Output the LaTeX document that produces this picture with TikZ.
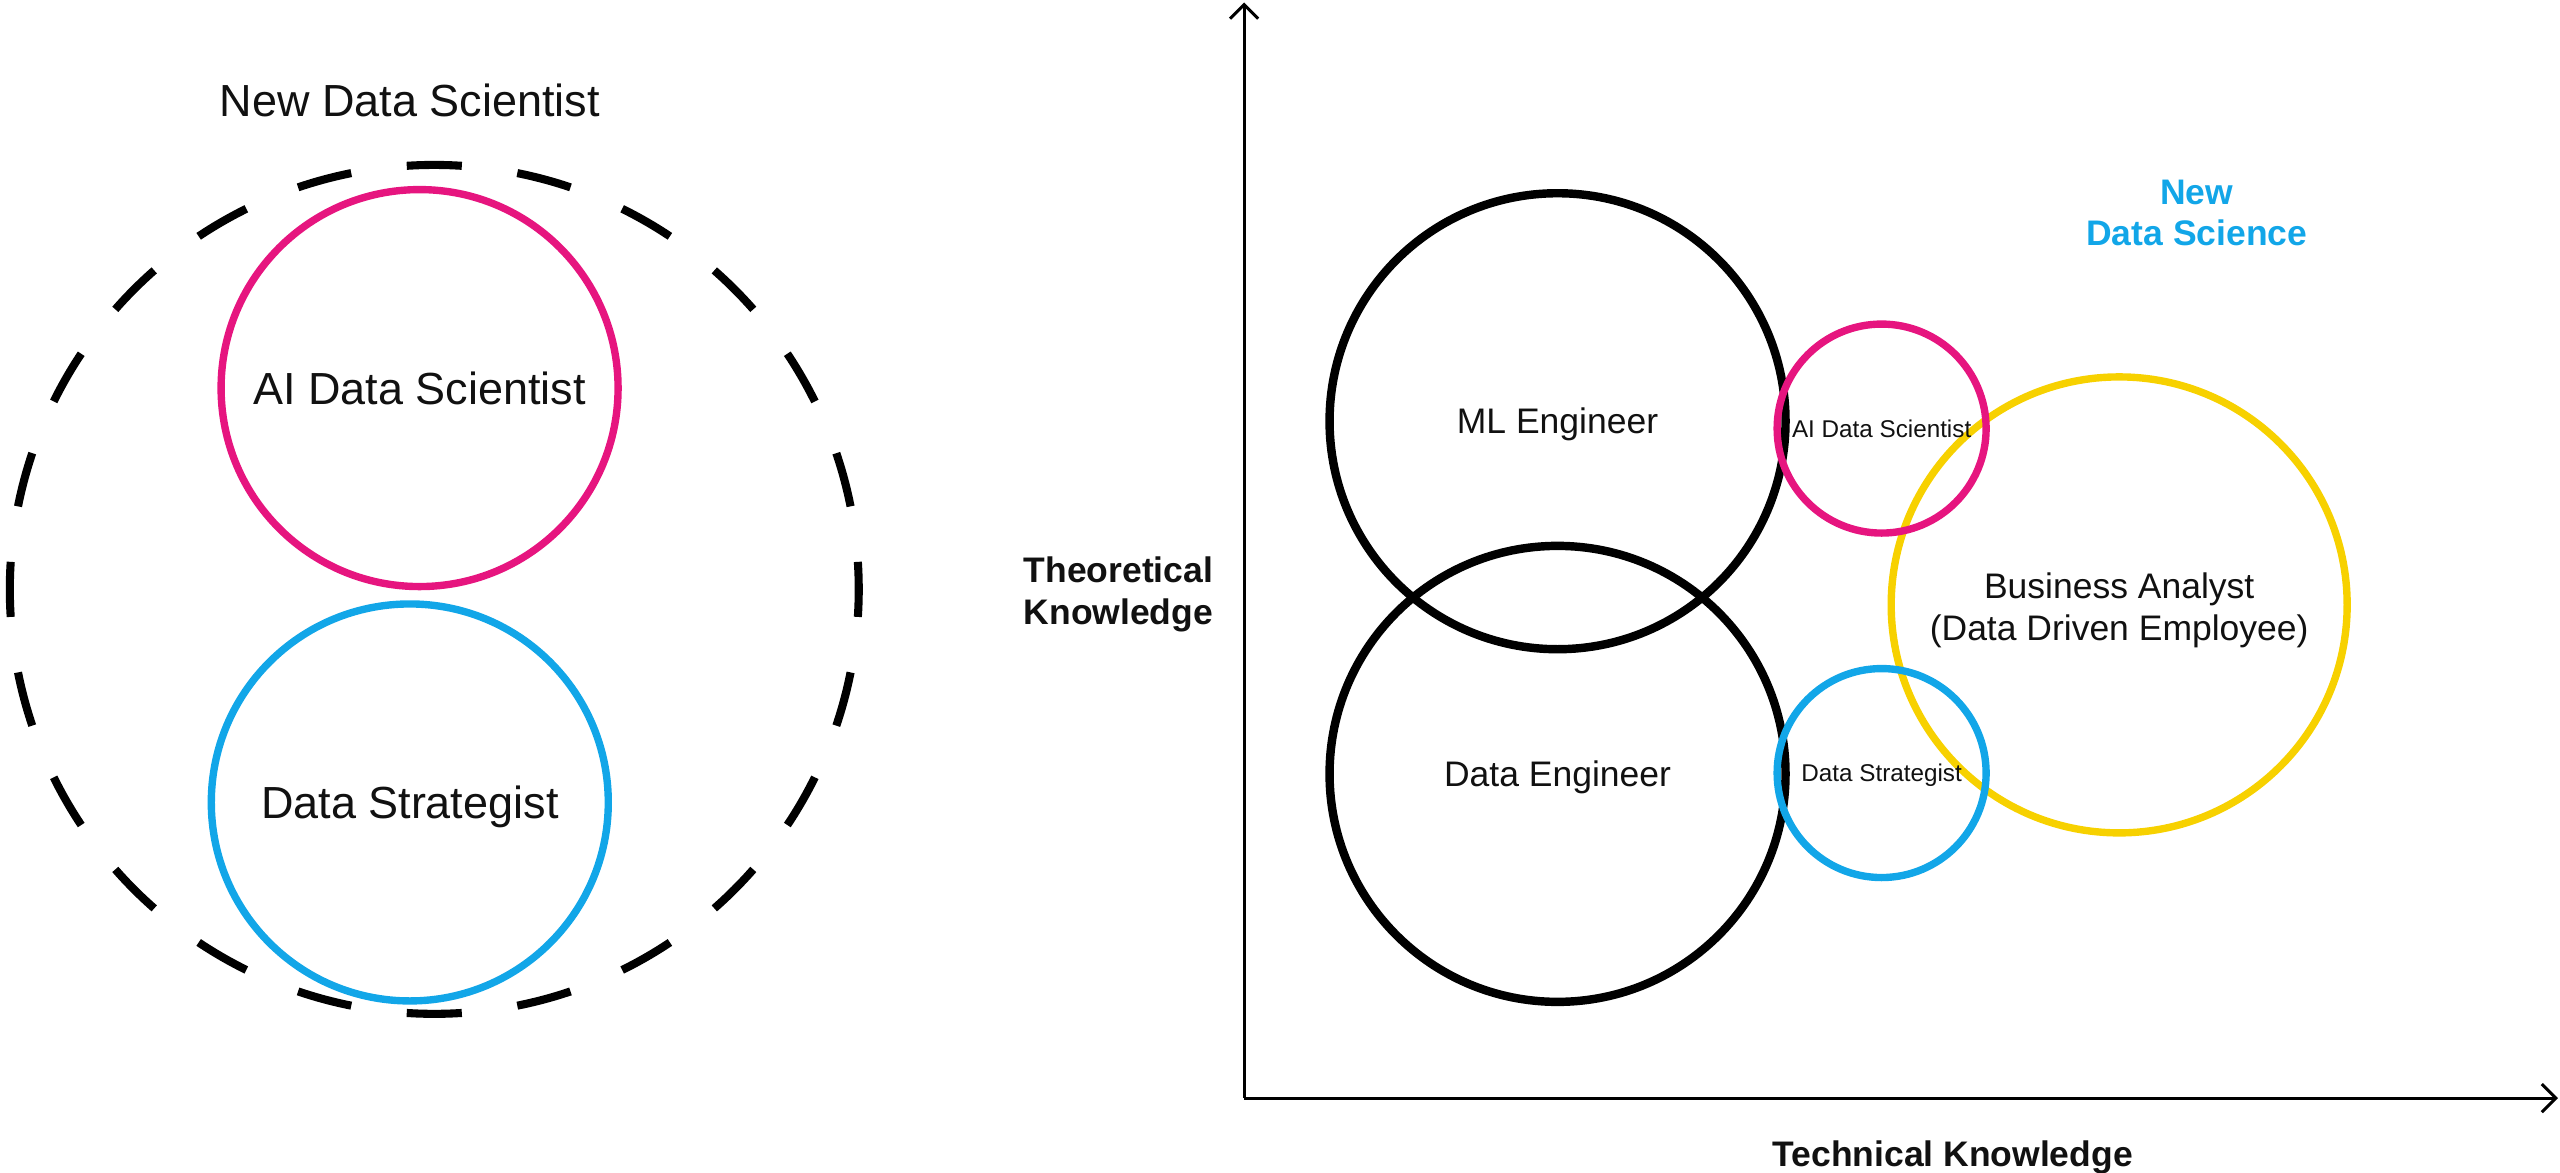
\documentclass[tikz,border=0pt]{standalone}
\usepackage{fontspec}
\setmainfont{Liberation Sans}
\usetikzlibrary{arrows.meta,calc}
\definecolor{ink}{HTML}{111111}
\definecolor{pinkc}{HTML}{E6157F}
\definecolor{bluec}{HTML}{12A6E8}
\definecolor{yellowc}{HTML}{F7D100}
\begin{document}
\begin{tikzpicture}[x=0.16327mm, y=-0.16327mm,
  ring/.style={circle, draw, inner sep=0pt, minimum size=#1, align=center, text=ink},
  bigtxt/.style={font=\fontsize{12.8}{15}\selectfont, text height=9.16pt, text depth=0pt},
  midtxt/.style={font=\fontsize{10.1}{12}\selectfont, text height=7.23pt, text depth=0pt},
  midtwo/.style={font=\fontsize{10.1}{12}\selectfont},
  smalltxt/.style={font=\fontsize{6.9}{8}\selectfont, text height=4.94pt, text depth=0pt},
  boldtxt/.style={font=\fontsize{10.1}{11.8}\selectfont\bfseries, align=center, text height=7.23pt, text depth=0pt},
  boldtwo/.style={font=\fontsize{10.1}{11.8}\selectfont\bfseries, align=center},
  dashring/.style={line width=2.3pt, draw=black},
  axis/.style={line width=0.85pt, draw=black, -{Straight Barb[length=4pt,width=8pt]}},
  blackring/.style={line width=2.4pt, draw=black},
  pinkring/.style={line width=2.1pt, draw=pinkc},
  bluering/.style={line width=2.1pt, draw=bluec},
  yellowring/.style={line width=2.1pt, draw=yellowc}
]
\useasboundingbox (0,0) rectangle (1568,718.45);

% ---------- left panel ----------
\node[bigtxt, text=ink] (nds) at (251,61.5) {New Data Scientist};
\coordinate (dc) at (266,361);
\foreach \a in {0,15,...,345}{
  \draw[dashring] ($(dc)+(\a-3.72:260)$) arc[start angle=\a-3.72, end angle=\a+3.72, radius=260];
}
\node[ring=39.7mm, pinkring, bigtxt] (lai) at (257,237.7) {AI Data Scientist};
\node[ring=39.7mm, bluering, bigtxt] (lds) at (251,491.5) {Data Strategist};

% ---------- right panel ----------
\coordinate (o) at (762,672.6);
\coordinate (ytop) at (762,1.5);
\coordinate (xend) at (1566.7,672.6);
\draw[axis] (o) -- (ytop);
\draw[axis] (o) -- (xend);

\node[boldtwo, text=ink] (tk) at (685,364) {Theoretical\\Knowledge};
\node[boldtxt, text=ink] (tech) at (1196,706.5) {Technical Knowledge};
\node[boldtwo, text=bluec] (nsci) at (1345.5,130.5) {New\\Data Science};

\node[ring=45.6mm, blackring, midtxt] (mle) at (954,258) {ML Engineer};
\node[ring=45.6mm, blackring, midtxt] (de) at (954,474) {Data Engineer};
\node[ring=45.6mm, yellowring, draw=yellowc] (ba) at (1298,370.5) {};
\node[midtwo, align=center, text=ink] (batxt) at (1298,374) {Business Analyst\\(Data Driven Employee)};
\node[ring=20.9mm, pinkring, smalltxt] (sai) at (1152.5,262.5) {AI Data Scientist};
\node[ring=20.9mm, bluering, smalltxt] (sds) at (1152.5,473.5) {Data Strategist};
\end{tikzpicture}
\end{document}
